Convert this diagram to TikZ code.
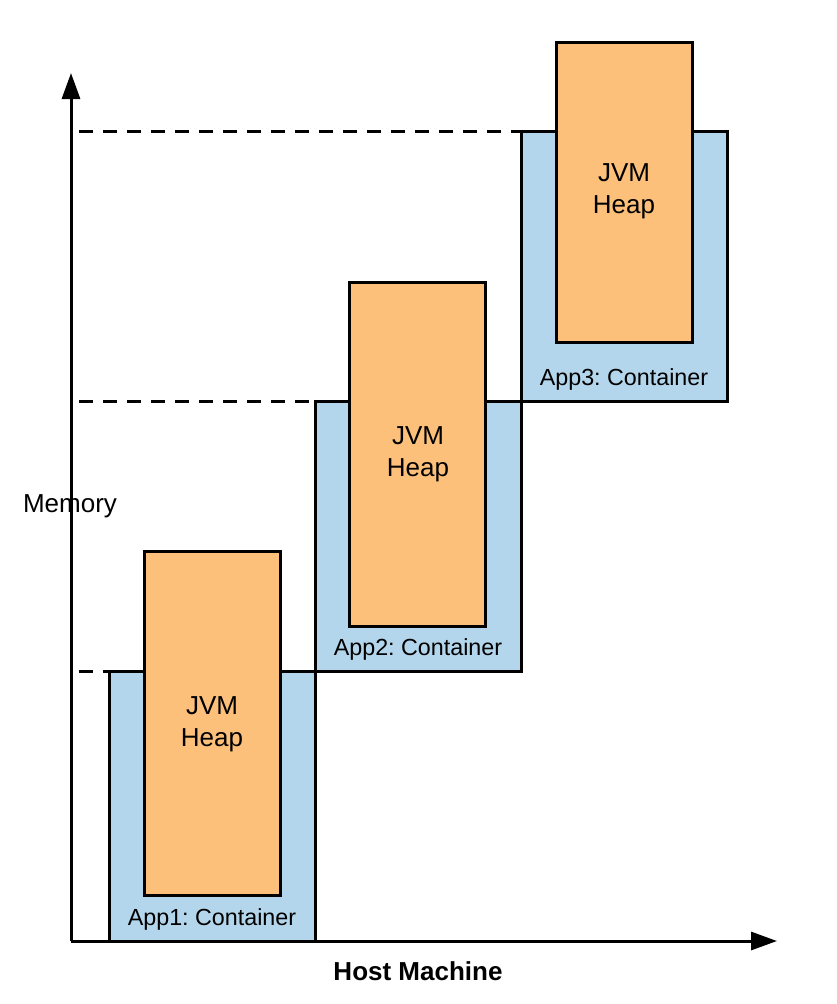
\documentclass[tikz,border=0pt]{standalone}
\usepackage{fontspec}
\setmainfont{Liberation Sans}
\frenchspacing
\usetikzlibrary{arrows.meta,positioning}
\definecolor{contblue}{RGB}{180,214,236}
\definecolor{heaporange}{RGB}{252,192,122}

\begin{document}
\begin{tikzpicture}[x=1pt,y=-1pt,
    container/.style={draw,line width=3pt,fill=contblue,minimum width=206pt,minimum height=270pt,inner sep=0pt,outer sep=0pt},
    heap/.style={draw,line width=3pt,fill=heaporange,minimum width=136pt,inner sep=0pt,outer sep=0pt},
    heaptext/.style={align=center,font=\fontsize{26}{32}\selectfont},
    contlabel/.style={font=\fontsize{23.3}{27}\selectfont},
    axis/.style={line width=3pt,-{Triangle[length=26pt,width=18pt]}}]
    \useasboundingbox (0,0) rectangle (836,1004);
    \node[container] at (212,806) (c1) {};
    \node[container] at (418,536) (c2) {};
    \node[container] at (624,266) (c3) {};
    \node[heap, minimum height=344pt] at (212.5,723) (h1) {};
    \node[heap, minimum height=344pt] at (417.5,454) (h2) {};
    \node[heap, minimum height=300pt] at (624,192) (h3) {};
    \node[heaptext] at (212,724) (t1) {JVM\\Heap};
    \node[heaptext] at (418,454) (t2) {JVM\\Heap};
    \node[heaptext] at (624,191) (t3) {JVM\\Heap};
    \node[contlabel] at (212,919) (l1) {App1: Container};
    \node[contlabel] at (418,649) (l2) {App2: Container};
    \node[contlabel] at (624,379) (l3) {App3: Container};
    \coordinate (o) at (71,941);
    \coordinate (ytop) at (71,73);
    \coordinate (xend) at (777,941);
    \draw[axis] (o) -- (ytop);
    \draw[axis] (o) -- (xend);
    \draw[line width=3pt,dash pattern=on 14pt off 10pt,dash phase=-8pt]
    (o |- c1.north west) -- (c1.north west)
    (o |- c2.north west) -- (c2.north west)
    (o |- c3.north west) -- (c3.north west);
    \node[font=\fontsize{26}{30}\selectfont] at (70,506) (mem) {Memory};
    \node[font=\fontsize{26}{30}\selectfont\bfseries] at (418,971) (host) {Host Machine};
\end{tikzpicture}
\end{document}
